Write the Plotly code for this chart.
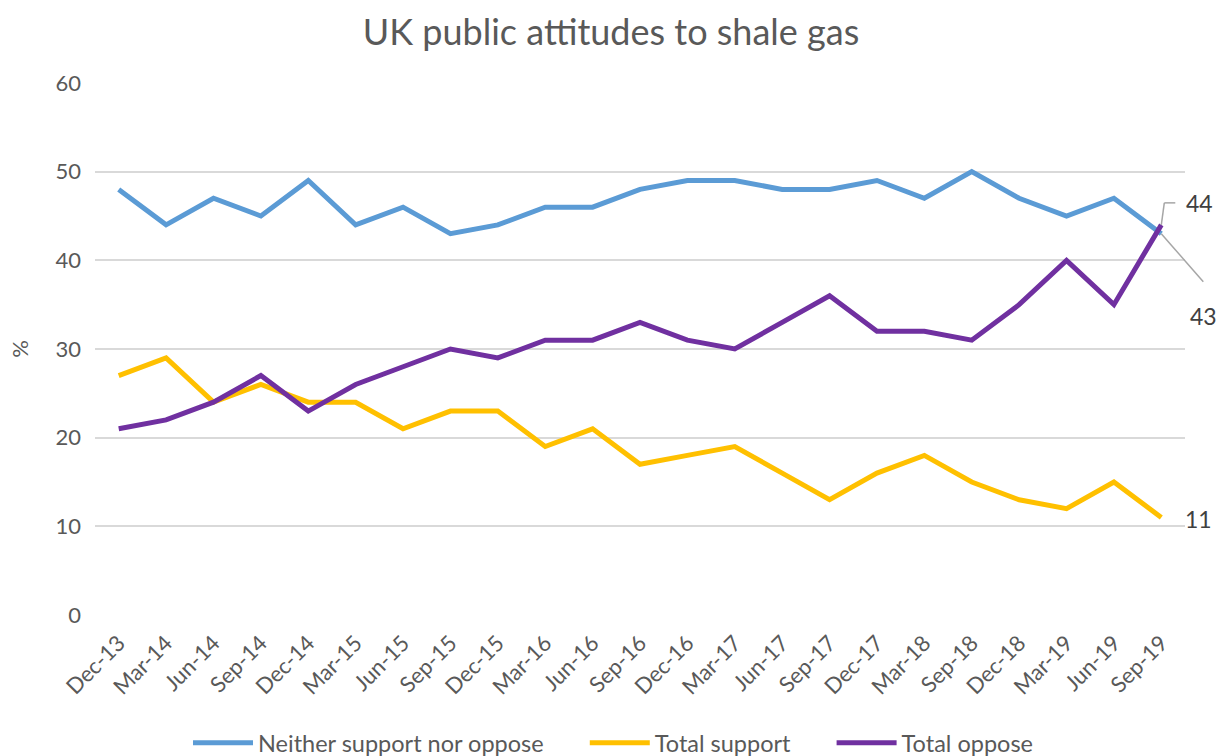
import plotly.graph_objects as go

categories = ["Dec-13", "Mar-14", "Jun-14", "Sep-14", "Dec-14", "Mar-15", "Jun-15", "Sep-15",
              "Dec-15", "Mar-16", "Jun-16", "Sep-16", "Dec-16", "Mar-17", "Jun-17", "Sep-17",
              "Dec-17", "Mar-18", "Sep-18", "Dec-18", "Mar-19", "Jun-19", "Sep-19"]
neither = [48, 44, 47, 45, 49, 44, 46, 43, 44, 46, 46, 48, 49, 49, 48, 48, 49, 47, 50, 47, 45, 47, 43]
support = [27, 29, 24, 26, 24, 24, 21, 23, 23, 19, 21, 17, 18, 19, 16, 13, 16, 18, 15, 13, 12, 15, 11]
oppose = [21, 22, 24, 27, 23, 26, 28, 30, 29, 31, 31, 33, 31, 30, 33, 36, 32, 32, 31, 35, 40, 35, 44]
y_ticks = [0, 10, 20, 30, 40, 50, 60]

FONT = "Lato, 'Open Sans', sans-serif"
GREY = "#595959"
PAD = "\u00a0" * 6

fig = go.Figure()
fig.add_trace(go.Scatter(x=categories, y=neither, mode="lines", name="Neither support nor oppose" + PAD,
                         line=dict(color="#5B9BD5", width=5)))
fig.add_trace(go.Scatter(x=categories, y=support, mode="lines", name="Total support" + PAD,
                         line=dict(color="#FFC000", width=5)))
fig.add_trace(go.Scatter(x=categories, y=oppose, mode="lines", name="Total oppose",
                         line=dict(color="#7030A0", width=5)))

W, H = 1222, 756
ML, MR, MT, MB = 95, 37, 83, 141
plot_w = float(W - ML - MR)
plot_h = float(H - MT - MB)
n = len(categories)

def px_x(idx):
    return (idx + 0.5) / n

def px_y(v):
    return v / 60.0

last = n - 1
LEAD = dict(color="#A6A6A6", width=1.5)
fig.add_shape(type="line", xref="paper", yref="paper",
              x0=px_x(last), y0=px_y(oppose[-1]), x1=px_x(last) + 3 / plot_w, y1=px_y(oppose[-1]) + 22 / plot_h,
              line=LEAD)
fig.add_shape(type="line", xref="paper", yref="paper",
              x0=px_x(last) + 3 / plot_w, y0=px_y(oppose[-1]) + 22 / plot_h,
              x1=px_x(last) + 14 / plot_w, y1=px_y(oppose[-1]) + 22 / plot_h,
              line=LEAD)
fig.add_shape(type="line", xref="paper", yref="paper",
              x0=px_x(last), y0=px_y(neither[-1]), x1=px_x(last) + 42 / plot_w, y1=px_y(neither[-1]) - 48 / plot_h,
              line=LEAD)

LBL = dict(family=FONT, size=23, color="#404040")
fig.add_annotation(xref="paper", yref="paper", x=px_x(last) + 38 / plot_w, y=px_y(oppose[-1]) + 22 / plot_h,
                   xanchor="center", yanchor="middle", text=str(oppose[-1]), showarrow=False, font=LBL)
fig.add_annotation(xref="paper", yref="paper", x=px_x(last) + 42 / plot_w, y=px_y(neither[-1]) - 82 / plot_h,
                   xanchor="center", yanchor="middle", text=str(neither[-1]), showarrow=False, font=LBL)
fig.add_annotation(xref="paper", yref="paper", x=px_x(last) + 37 / plot_w, y=px_y(support[-1]) - 2 / plot_h,
                   xanchor="center", yanchor="middle", text=str(support[-1]), showarrow=False, font=LBL)

fig.update_layout(
    width=W, height=H,
    paper_bgcolor="white", plot_bgcolor="white",
    margin=dict(l=ML, r=MR, t=MT, b=MB, autoexpand=False),
    title=dict(text="UK public attitudes to shale gas", x=0.5, xanchor="center", y=1 - 32 / H, yanchor="middle",
               font=dict(family=FONT, size=36, color=GREY)),
    font=dict(family=FONT, color=GREY),
    xaxis=dict(range=[-0.5, n - 0.5], tickangle=-45, showgrid=False, showline=False, zeroline=False,
               tickfont=dict(family=FONT, size=22, color=GREY), ticks="", automargin=False,
               ticklabelstandoff=10),
    yaxis=dict(range=[0, 60], tickvals=y_ticks, showgrid=True, gridcolor="#D9D9D9", gridwidth=1.5,
               zeroline=False, showline=False, ticks="", automargin=False,
               tickfont=dict(family=FONT, size=22, color=GREY), ticklabelstandoff=13,
               title=dict(text="%", font=dict(family=FONT, size=22, color=GREY), standoff=20)),
    legend=dict(orientation="h", x=0.5 - 27 / plot_w, xanchor="center", y=-128 / plot_h, yanchor="middle",
                font=dict(family=FONT, size=23.5, color=GREY), tracegroupgap=0, itemwidth=60),
    showlegend=True,
)

fig.write_html("out.html", config={"displayModeBar": False},
               post_script="document.body.style.margin='0';document.body.style.overflow='hidden';")
